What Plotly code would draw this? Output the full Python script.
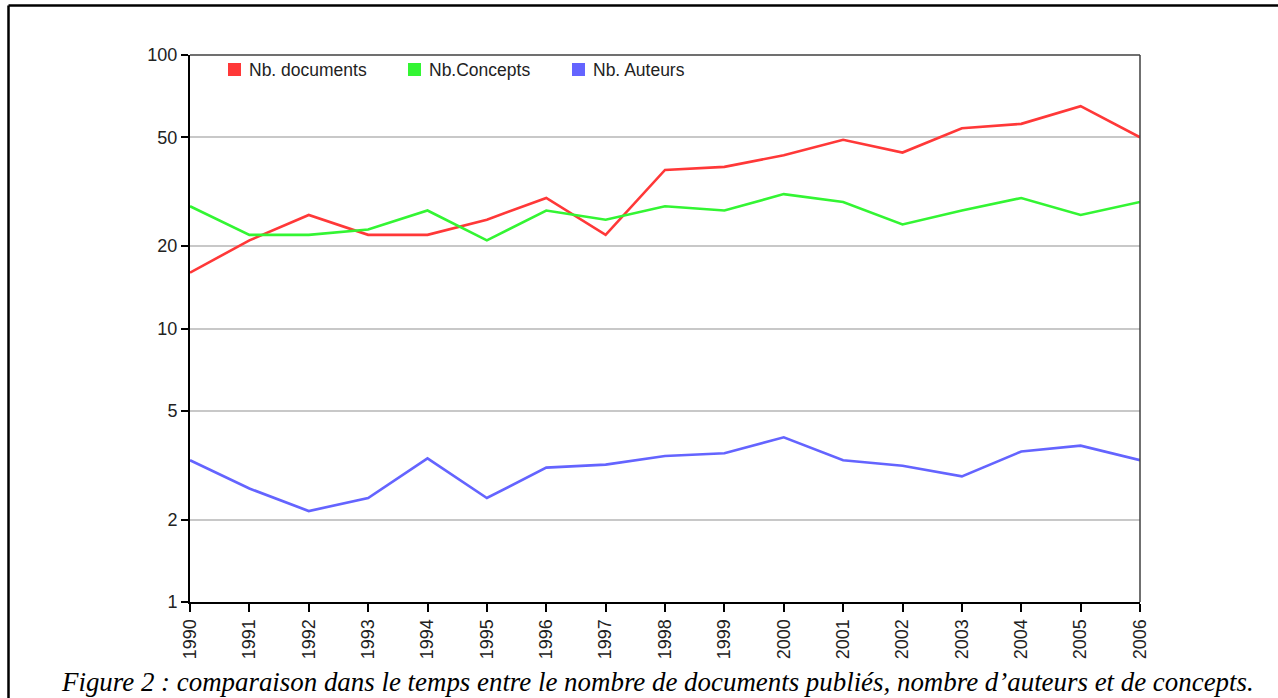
import plotly.graph_objects as go

years = list(range(1990, 2007))
year_labels = [str(y) for y in years]
documents = [16, 21, 26, 22, 22, 25, 30, 22, 38, 39, 43, 49, 44, 54, 56, 65, 50]
concepts = [28, 22, 22, 23, 27, 21, 27, 25, 28, 27, 31, 29, 24, 27, 30, 26, 29]
auteurs = [3.3, 2.6, 2.15, 2.4, 3.35, 2.4, 3.1, 3.18, 3.42, 3.5, 4.0, 3.3, 3.15, 2.88, 3.55, 3.73, 3.3]
series_names = ["Nb. documents", "Nb.Concepts", "Nb. Auteurs"]
series_colors = ["#ff3838", "#33f533", "#6464ff"]
y_ticks = [1, 2, 5, 10, 20, 50, 100]
caption = "Figure 2 : comparaison dans le temps entre le nombre de documents publiés, nombre d\u2019auteurs et de concepts."

W, H = 1278, 698
L, R, T, B = 190, 1140, 55, 602

def px(x):
    return (x - L) / (R - L)

def py(y):
    return (B - y) / (B - T)

fig = go.Figure()
for name, vals, col in zip(series_names, [documents, concepts, auteurs], series_colors):
    fig.add_trace(go.Scatter(x=years, y=vals, mode="lines", name=name,
                             line=dict(color=col, width=2.6), showlegend=False))

shapes = []
# outer page border (top and left)
shapes.append(dict(type="line", xref="paper", yref="paper", x0=px(8.5), x1=px(1290), y0=py(5.5), y1=py(5.5),
                   line=dict(color="black", width=2.5)))
shapes.append(dict(type="line", xref="paper", yref="paper", x0=px(8.5), x1=px(8.5), y0=py(5.5), y1=py(720),
                   line=dict(color="black", width=2.5)))
# top/right frame of plot area
shapes.append(dict(type="line", xref="paper", yref="paper", x0=0, x1=1, y0=1, y1=1,
                   line=dict(color="#404040", width=1.5)))
shapes.append(dict(type="line", xref="paper", yref="paper", x0=1, x1=1, y0=0, y1=1,
                   line=dict(color="#404040", width=1.5)))

# legend: squares + labels
legend_x = [228, 408, 572]
annotations = []
for lx, name, col in zip(legend_x, series_names, series_colors):
    shapes.append(dict(type="rect", xref="paper", yref="paper", x0=px(lx), x1=px(lx + 13),
                       y0=py(76), y1=py(63), fillcolor=col, line=dict(width=0)))
    annotations.append(dict(xref="paper", yref="paper", x=px(lx + 19), y=py(70), text=name,
                            showarrow=False, xanchor="left", yanchor="middle",
                            font=dict(family="Liberation Sans, Arial", size=17.5, color="#222")))

annotations.append(dict(xref="paper", yref="paper", x=px(657), y=py(682), text="<i>" + caption + "</i>",
                        showarrow=False, xanchor="center", yanchor="middle",
                        font=dict(family="Liberation Serif, Times New Roman", size=26.9, color="black")))

fig.update_layout(
    width=W, height=H,
    margin=dict(l=L, r=W - R, t=T, b=H - B, pad=0),
    paper_bgcolor="white", plot_bgcolor="white",
    shapes=shapes, annotations=annotations,
    showlegend=False,
    xaxis=dict(range=[1990, 2006], tickvals=years, ticktext=year_labels, tickangle=-90,
               showgrid=False, zeroline=False, showline=True, linecolor="black", linewidth=2,
               ticks="outside", ticklen=8, tickwidth=2, tickcolor="black",
               tickfont=dict(family="Liberation Sans, Arial", size=18, color="#222")),
    yaxis=dict(type="log", range=[0, 2], tickvals=y_ticks, ticktext=[str(v) for v in y_ticks],
               showgrid=True, gridcolor="#c8c8c8", gridwidth=1.5, zeroline=False,
               showline=True, linecolor="black", linewidth=2,
               ticks="outside", ticklen=7, tickwidth=2, tickcolor="black",
               tickfont=dict(family="Liberation Sans, Arial", size=18, color="#222")),
)

fig.write_html("out.html")
